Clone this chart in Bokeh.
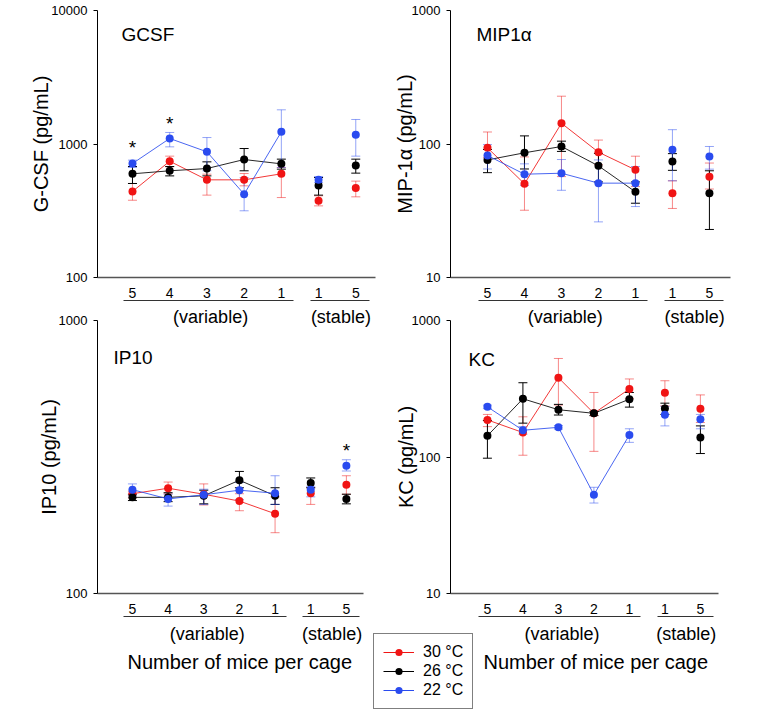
import math
from bokeh.plotting import figure
from bokeh.layouts import column, row
from bokeh.models import (ColumnDataSource, Whisker, TeeHead, FixedTicker, LinearAxis, GridBox,
                          PrintfTickFormatter, Label, Legend, LegendItem, Range1d, Title)
from bokeh.core.properties import value
from bokeh.embed import file_html
from bokeh.resources import INLINE

FONT = "Liberation Sans"

# ---------------- data ----------------
positions = [1, 2, 3, 4, 5, 6, 7]
cage_labels = ["5", "4", "3", "2", "1", "1", "5"]
n_variable = 5
group_labels = ["(variable)", "(stable)"]
group_centers = [3.1, 6.6]
group_bounds = [(0.75, 5.32), (5.78, 7.37)]
x_title = "Number of mice per cage"
series_labels = ["30 °C", "26 °C", "22 °C"]

# GCSF (pg/mL)
gcsf_30 = [441, 743, 539, 539, 598, 375, 469]
gcsf_30_lo = [379, 675, 414, 486, 397, 344, 402]
gcsf_30_hi = [506, 811, 594, 601, 667, 409, 527]
gcsf_26 = [598, 630, 655, 765, 710, 489, 690]
gcsf_26_lo = [506, 577, 577, 630, 648, 414, 605]
gcsf_26_hi = [678, 678, 735, 925, 770, 561, 770]
gcsf_22 = [714, 1100, 874, 421, 1234, 539, 1172]
gcsf_22_lo = [667, 952, 630, 316, 667, 515, 811]
gcsf_22_hi = [757, 1220, 1118, 560, 1803, 571, 1526]
gcsf_sig_x = [1, 2]
gcsf_sig_y = [942, 1425]

# MIP-1alpha (pg/mL)
mip_30 = [93.6, 50.3, 143, 86.9, 64, 42.8, 56.8]
mip_30_lo = [79, 31.9, 57, 70, 48, 32.9, 46]
mip_30_hi = [123, 80, 228, 107, 81, 53, 72]
mip_26 = [76, 85.9, 95.8, 68.6, 43.8, 74, 42.8]
mip_26_lo = [61, 65, 88, 52, 36, 63.5, 22.9]
mip_26_hi = [91, 115, 105, 85, 52, 84.7, 63]
mip_22 = [82, 59.4, 60.4, 50.9, 50.9, 90.4, 80.6]
mip_22_lo = [65, 49, 45, 26.1, 34, 53, 64.8]
mip_22_hi = [99, 71, 76.5, 76, 67.8, 128, 95.8]

# IP10 (pg/mL)
ip10_30 = [232, 243, 231, 218, 196, 233, 250]
ip10_30_lo = [224, 232, 211, 201, 167, 212, 231]
ip10_30_hi = [237, 256, 252, 232, 226, 244, 270]
ip10_26 = [225, 225, 228, 260, 228, 254, 222]
ip10_26_lo = [219, 217, 213, 244, 212, 244, 213]
ip10_26_hi = [231, 234, 239, 280, 244, 265, 231]
ip10_22 = [240, 222, 230, 239, 233, 240, 294]
ip10_22_lo = [229, 209, 212, 221, 212, 226, 281]
ip10_22_hi = [252, 231, 241, 255, 270, 247, 309]
ip10_sig_x = [7]
ip10_sig_y = [334]

# KC (pg/mL)
kc_30 = [187, 151, 381, 209, 315, 295, 226]
kc_30_lo = [167, 103, 240, 110, 268, 237, 179]
kc_30_hi = [205, 197, 527, 297, 373, 362, 285]
kc_26 = [143, 267, 222, 209, 265, 227, 139]
kc_26_lo = [98, 177, 203, 201, 232, 205, 106]
kc_26_hi = [185, 350, 243, 215, 297, 248, 169]
kc_22 = [233, 157, 165, 53, 145, 204, 189]
kc_22_lo = [226, 147, 160, 46, 128, 169, 161]
kc_22_hi = [240, 167, 170, 60, 161, 235, 205]

RED, BLACK, BLUE = "#f01414", "#000000", "#2a4bef"
SERIES_COLORS = [RED, BLACK, BLUE]
ERR_ALPHA = [0.5, 1.0, 0.5]


class Geo:
    """pixel layout of one panel (page pixels) and conversion to data coordinates"""
    def __init__(self, w, h, l, r, t, b, cx, cy, xr, yr):
        self.w, self.h, self.l, self.r, self.t, self.b = w, h, l, r, t, b
        self.cx, self.cy, self.xr, self.yr = cx, cy, xr, yr

    def X(self, px):
        return self.xr[0] + (px - self.l) / (self.r - self.l) * (self.xr[1] - self.xr[0])

    def Y(self, py):
        lo, hi = math.log10(self.yr[0]), math.log10(self.yr[1])
        return 10 ** (lo + (self.b - py) / (self.b - self.t) * (hi - lo))


def blank_axis(tick_out=0, **kw):
    return LinearAxis(ticker=FixedTicker(ticks=[]), major_tick_in=0, major_tick_out=tick_out,
                      major_tick_line_color=None, minor_tick_line_color=None,
                      major_label_standoff=0, **kw)


def make_panel(geo, yticks, ylabel, ylabel_standoff, series, title, title_xy,
               sig_x=None, sig_y=None, bottom=False, upper_geo=None, title_offset=0):
    p = figure(width=geo.w, height=geo.h, x_range=Range1d(*geo.xr),
               y_range=Range1d(*geo.yr), y_axis_type="log",
               output_backend="svg", toolbar_location=None, title=None,
               min_border_left=geo.l - geo.cx, min_border_right=geo.cx + geo.w - geo.r,
               min_border_top=geo.t - geo.cy, min_border_bottom=geo.cy + geo.h - geo.b)
    p.outline_line_color = None
    p.xgrid.visible = False
    p.ygrid.visible = False
    p.background_fill_color = "white"
    p.border_fill_color = "white"

    xa = p.xaxis[0]
    xa.ticker = FixedTicker(ticks=positions)
    xa.major_label_overrides = {k: v for k, v in zip(positions, cage_labels)}
    xa.major_tick_line_color = None
    xa.major_tick_out = 0
    xa.major_tick_in = 0
    xa.minor_tick_line_color = None
    xa.axis_line_color = "#555555"
    xa.axis_line_width = 1.5
    xa.major_label_text_font = FONT
    xa.major_label_text_font_size = "14px"
    xa.major_label_text_color = "black"
    xa.major_label_standoff = 10

    ya = p.yaxis[0]
    ya.ticker = FixedTicker(ticks=yticks)
    ya.formatter = PrintfTickFormatter(format="%d")
    ya.major_tick_out = 4
    ya.major_tick_in = 0
    ya.minor_tick_line_color = None
    ya.axis_line_color = "black"
    ya.major_label_text_font = FONT
    ya.major_label_text_font_size = "13px"
    ya.major_label_text_color = "black"
    ya.major_label_standoff = 6
    ya.axis_label = ylabel
    ya.axis_label_text_font = FONT
    ya.axis_label_text_font_size = "20px"
    ya.axis_label_text_font_style = "normal"
    ya.axis_label_text_color = "black"
    ya.axis_label_standoff = ylabel_standoff

    # small spacer so that the group underline sits a little lower
    p.add_layout(blank_axis(tick_out=6 if bottom else 5, axis_line_color=None), "below")

    # group underlines: axis lines limited to each group's span
    for b in group_bounds:
        p.add_layout(blank_axis(bounds=b, axis_line_color="#333333", axis_line_width=1),
                     "below")

    if bottom:
        gax = LinearAxis(ticker=FixedTicker(ticks=group_centers),
                         major_label_overrides={c: t for c, t in zip(group_centers, group_labels)},
                         axis_line_color=None, major_tick_line_color=None,
                         minor_tick_line_color=None, major_tick_in=0, major_tick_out=0,
                         major_label_standoff=7, major_label_text_font=FONT,
                         major_label_text_font_size="18px", major_label_text_color="black")
        p.add_layout(gax, "below")
        p.add_layout(Title(text=x_title, align="left", offset=title_offset,
                           text_font=FONT, text_font_size="20px", text_font_style="normal",
                           text_color="black", standoff=4), "below")

    if upper_geo is not None:
        # group labels of the panel above, drawn in this figure's top margin
        ug = upper_geo
        scale = (ug.xr[1] - ug.xr[0]) / (ug.r - ug.l)
        p.extra_x_ranges = {"upper": Range1d(ug.xr[0], ug.xr[0] + (geo.r - geo.l) * scale)}
        uax = LinearAxis(x_range_name="upper", ticker=FixedTicker(ticks=group_centers),
                         major_label_overrides={c: t for c, t in zip(group_centers, group_labels)},
                         axis_line_color=None, major_tick_line_color=None,
                         minor_tick_line_color=None, major_tick_in=0, major_tick_out=0,
                         major_label_standoff=-6, major_label_text_font=FONT,
                         major_label_text_font_size="18px", major_label_text_color="black")
        p.add_layout(uax, "above")

    renderers = []
    for (mean, lo, hi), color, ea in zip(series, SERIES_COLORS, ERR_ALPHA):
        src = ColumnDataSource(dict(x=positions, y=mean, lo=lo, hi=hi))
        w = Whisker(source=src, base="x", upper="hi", lower="lo",
                    line_color=color, line_alpha=ea, line_width=1, level="underlay",
                    upper_head=TeeHead(size=9, line_color=color, line_alpha=ea, line_width=1),
                    lower_head=TeeHead(size=9, line_color=color, line_alpha=ea, line_width=1))
        p.add_layout(w)
        lr = p.line(positions[:n_variable], mean[:n_variable], line_color=color,
                    line_width=1, line_alpha=0.85)
        sr = p.scatter("x", "y", source=src, marker="circle", size=8,
                       fill_color=color, line_color=None)
        renderers.append((lr, sr))

    if sig_x:
        p.text(x=sig_x, y=sig_y, text=["*"] * len(sig_x), text_align="center",
               text_baseline="middle", text_font=value(FONT), text_font_size="19px",
               text_color="black")

    p.add_layout(Label(x=geo.X(title_xy[0]), y=geo.Y(title_xy[1]), text=title,
                       text_font=FONT, text_font_size="19px", text_color="black",
                       text_align="left", text_baseline="middle"))
    return p, renderers


TOP_H = 303
g1 = Geo(378, TOP_H, 97, 375, 10, 277, 0, 0, (0.06, 7.53), (100, 10000))
g2 = Geo(380, TOP_H, 450, 730, 10, 277, 378, 0, (0.0, 7.57), (10, 1000))
g3 = Geo(372, 712 - TOP_H, 97, 363, 318, 593, 0, TOP_H, (0.02, 7.48), (100, 1000))
g4 = Geo(386, 712 - TOP_H, 450, 718, 318, 593, 372, TOP_H, (-0.04, 7.51), (10, 1000))

p1, _ = make_panel(g1, [100, 1000, 10000], "G-CSF (pg/mL)", -4,
                   [(gcsf_30, gcsf_30_lo, gcsf_30_hi), (gcsf_26, gcsf_26_lo, gcsf_26_hi),
                    (gcsf_22, gcsf_22_lo, gcsf_22_hi)], "GCSF", (121, 34),
                   gcsf_sig_x, gcsf_sig_y)
p2, _ = make_panel(g2, [10, 100, 1000], "MIP-1α (pg/mL)", -7,
                   [(mip_30, mip_30_lo, mip_30_hi), (mip_26, mip_26_lo, mip_26_hi),
                    (mip_22, mip_22_lo, mip_22_hi)], "MIP1α", (476, 34))
p3, _ = make_panel(g3, [100, 1000], "IP10 (pg/mL)", -4,
                   [(ip10_30, ip10_30_lo, ip10_30_hi), (ip10_26, ip10_26_lo, ip10_26_hi),
                    (ip10_22, ip10_22_lo, ip10_22_hi)], "IP10", (113, 355),
                   ip10_sig_x, ip10_sig_y, bottom=True, upper_geo=g1, title_offset=30)
p4, r4 = make_panel(g4, [10, 100, 1000], "KC (pg/mL)", -8,
                    [(kc_30, kc_30_lo, kc_30_hi), (kc_26, kc_26_lo, kc_26_hi),
                     (kc_22, kc_22_lo, kc_22_hi)], "KC", (468, 357),
                    bottom=True, upper_geo=g2, title_offset=33)

# legend: a small overlay figure placed on top of the KC panel's lower-left margin
LX, LY, LW, LH = 372, 632, 101, 77
lf = figure(width=LW, height=LH, x_range=Range1d(0, 1), y_range=Range1d(0, 1),
            x_axis_location=None, y_axis_location=None, toolbar_location=None,
            output_backend="svg", title=None, min_border=0, outline_line_color=None)
lf.xgrid.visible = False
lf.ygrid.visible = False
lf.background_fill_alpha = 0
lf.border_fill_alpha = 0
items = []
for lab, color in zip(series_labels, SERIES_COLORS):
    # proxies sit outside the visible range; they only supply the legend glyphs
    lr = lf.line([-2, -1], [-2, -1], line_color=color, line_width=1)
    sr = lf.scatter([-2], [-2], marker="circle", size=8, fill_color=color, line_color=None)
    items.append(LegendItem(label=lab, renderers=[lr, sr]))
legend = Legend(items=items, location="top_left", margin=1,
                border_line_color="black", border_line_width=1,
                background_fill_color="white", background_fill_alpha=1,
                padding=9, spacing=1, glyph_width=31, glyph_height=18,
                label_standoff=9, label_text_font=FONT, label_text_font_size="16px",
                label_text_color="black")
lf.add_layout(legend)

H2 = 712 - TOP_H
rows_px = [f"{LY - TOP_H}px", f"{LH}px", f"{H2 - (LY - TOP_H) - LH}px"]
cols_px = [f"{g3.w}px", f"{LX - g4.cx}px", f"{LW}px", f"{g4.w - (LX - g4.cx) - LW}px"]
bottom_row = GridBox(children=[(p3, 0, 0, 3, 1), (p4, 0, 1, 3, 3), (lf, 1, 2, 1, 1)],
                     rows=rows_px, cols=cols_px, spacing=0)
layout = column(row(p1, p2), bottom_row)
open("out.html", "w").write(file_html(layout, INLINE))
